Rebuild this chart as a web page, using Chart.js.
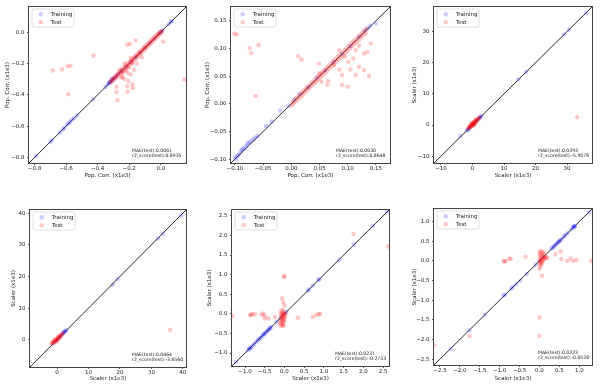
<!DOCTYPE html>
<html>
<head>
<meta charset="utf-8">
<script src="https://cdn.jsdelivr.net/npm/chart.js@4.4.1/dist/chart.umd.min.js"></script>
<style>
  html, body { margin: 0; padding: 0; background: #fff; }
  body { width: 602px; height: 390px; position: relative; overflow: hidden; }
  canvas { position: absolute; }
</style>
</head>
<body>
<canvas id="c1" width="200" height="195" style="left:0;top:0"></canvas>
<canvas id="c2" width="200" height="195" style="left:200px;top:0"></canvas>
<canvas id="c3" width="202" height="195" style="left:400px;top:0"></canvas>
<canvas id="c4" width="200" height="195" style="left:0;top:195px"></canvas>
<canvas id="c5" width="200" height="195" style="left:200px;top:195px"></canvas>
<canvas id="c6" width="202" height="195" style="left:400px;top:195px"></canvas>
<script>
// ----- dados -----
const p1Range = [-0.835, 0.16];
const p1Ticks = [-0.8, -0.6, -0.4, -0.2, 0.0];
const p1Train = [[-0.79,-0.79],[-0.70,-0.70],[-0.69,-0.69],[-0.64,-0.64],[-0.62,-0.62],[-0.61,-0.61],[-0.595,-0.59],[-0.585,-0.58],[-0.575,-0.575],[-0.565,-0.56],[-0.55,-0.55],[-0.53,-0.53],[-0.43,-0.43],[-0.35,-0.35],[-0.335,-0.335],[-0.33,-0.325],[-0.325,-0.32],[-0.32,-0.32],[-0.315,-0.31],[-0.31,-0.305],[-0.305,-0.30],[-0.30,-0.295],[-0.29,-0.29],[-0.28,-0.28],[-0.27,-0.265],[-0.25,-0.25],[-0.22,-0.22],[-0.19,-0.19],[-0.16,-0.16],[-0.13,-0.13],[-0.10,-0.10],[-0.07,-0.07],[-0.04,-0.04],[-0.01,-0.01],[0.00,0.00],[0.01,0.01],[0.05,0.05],[0.065,0.065],[0.07,0.07]];
const p1Test = [[-0.320,-0.315],[-0.315,-0.322],[-0.310,-0.300],[-0.305,-0.312],[-0.300,-0.292],[-0.295,-0.302],[-0.290,-0.282],[-0.285,-0.293],[-0.280,-0.272],[-0.275,-0.283],[-0.270,-0.262],[-0.265,-0.274],[-0.260,-0.252],[-0.255,-0.265],[-0.250,-0.241],[-0.245,-0.255],[-0.240,-0.232],[-0.235,-0.246],[-0.230,-0.221],[-0.225,-0.236],[-0.220,-0.211],[-0.215,-0.227],[-0.210,-0.202],[-0.205,-0.216],[-0.200,-0.191],[-0.195,-0.206],[-0.190,-0.182],[-0.185,-0.195],[-0.180,-0.171],[-0.175,-0.186],[-0.170,-0.162],[-0.165,-0.175],[-0.160,-0.152],[-0.155,-0.164],[-0.150,-0.142],[-0.145,-0.153],[-0.140,-0.132],[-0.135,-0.143],[-0.130,-0.122],[-0.125,-0.133],[-0.120,-0.112],[-0.115,-0.123],[-0.110,-0.102],[-0.105,-0.113],[-0.100,-0.092],[-0.095,-0.103],[-0.090,-0.082],[-0.085,-0.093],[-0.080,-0.072],[-0.075,-0.083],[-0.070,-0.062],[-0.065,-0.073],[-0.060,-0.052],[-0.055,-0.063],[-0.050,-0.042],[-0.045,-0.053],[-0.040,-0.032],[-0.035,-0.043],[-0.030,-0.022],[-0.025,-0.033],[-0.020,-0.012],[-0.015,-0.023],[-0.010,-0.003],[-0.005,-0.013],[0.000,0.004],[0.005,-0.003],[0.010,0.008],
  [-0.24,-0.26],[-0.22,-0.245],[-0.20,-0.225],[-0.18,-0.20],[-0.23,-0.20],[-0.19,-0.165],[-0.26,-0.24],
  [-0.685,-0.245],[-0.626,-0.239],[-0.59,-0.218],[-0.572,-0.214],[-0.586,-0.396],[-0.426,-0.150],[-0.212,-0.080],[-0.195,-0.075],[-0.159,-0.053],[0.015,-0.061],[0.149,-0.303],[-0.281,-0.383],[-0.275,-0.434],[-0.243,-0.286],[-0.206,-0.313],[-0.180,-0.334],[-0.212,-0.345],[-0.176,-0.356],[-0.28,-0.35],[-0.23,-0.30],[-0.19,-0.27],[-0.25,-0.29],[-0.21,-0.26],[-0.17,-0.24],[-0.15,-0.20],[-0.12,-0.16],[-0.21,-0.38]];

const p2Range = [-0.107, 0.175];
const p2Ticks = [-0.10, -0.05, 0.00, 0.05, 0.10, 0.15];
const p2Train = [[-0.100,-0.096],[-0.098,-0.100],[-0.096,-0.094],[-0.093,-0.092],[-0.090,-0.087],[-0.088,-0.083],[-0.086,-0.082],[-0.083,-0.080],[-0.080,-0.076],[-0.078,-0.072],[-0.075,-0.070],[-0.072,-0.068],[-0.068,-0.064],[-0.064,-0.061],[-0.060,-0.058],[-0.045,-0.040],[-0.035,-0.032],[-0.020,-0.012],[-0.005,-0.003],[0.005,0.008],[0.015,0.018],[0.030,0.030],[0.045,0.047],[0.060,0.060],[0.075,0.076],[0.090,0.090],[0.105,0.104],[0.120,0.121],[0.130,0.132],[0.135,0.136],[0.140,0.141],[0.150,0.145]];
const p2Test = [[0.000,-0.004],[0.002,0.003],[0.004,0.000],[0.006,0.008],[0.008,0.004],[0.010,0.012],[0.012,0.008],[0.014,0.016],[0.016,0.012],[0.018,0.020],[0.020,0.016],[0.022,0.024],[0.024,0.020],[0.026,0.028],[0.028,0.024],[0.030,0.032],[0.032,0.028],[0.034,0.036],[0.036,0.032],[0.038,0.040],[0.040,0.036],[0.042,0.044],[0.044,0.040],[0.046,0.049],[0.048,0.044],[0.050,0.053],[0.052,0.048],[0.054,0.057],[0.056,0.052],[0.058,0.061],[0.060,0.056],[0.062,0.065],[0.064,0.060],[0.066,0.069],[0.068,0.064],[0.070,0.073],[0.072,0.068],[0.074,0.077],[0.076,0.072],[0.078,0.081],[0.080,0.076],[0.082,0.085],[0.084,0.080],[0.086,0.089],[0.088,0.084],[0.090,0.093],[0.092,0.088],[0.094,0.097],[0.096,0.092],[0.098,0.101],[0.100,0.096],[0.102,0.105],[0.104,0.100],[0.106,0.109],[0.108,0.104],[0.110,0.113],[0.112,0.108],[0.114,0.117],[0.116,0.112],[0.118,0.121],[0.120,0.116],[0.122,0.125],[0.124,0.120],[0.126,0.129],[0.128,0.124],[0.130,0.133],[0.132,0.128],[0.134,0.136],
  [-0.101,0.127],[-0.097,0.125],[-0.074,0.101],[-0.071,0.092],[-0.058,0.106],[-0.063,0.014],[0.012,0.086],[0.018,0.080],[0.049,0.073],[0.050,0.055],[0.065,0.041],[0.054,0.040],[0.064,0.034],[0.090,0.034],[0.100,0.031],[0.085,0.062],[0.090,0.052],[0.105,0.062],[0.114,0.052],[0.120,0.067],[0.129,0.091],[0.135,0.094],[0.129,0.061],[0.138,0.050],[0.141,0.109],[0.110,0.082],[0.101,0.076],[0.114,0.097],[0.085,0.097],[0.076,0.070],[0.095,0.085],[0.120,0.105]];

const p3Range = [-12.2, 37.9];
const p3Ticks = [-10, 0, 10, 20, 30];
const p3Train = [[-3.8,-3.5],[-1.8,-1.8],[-1.5,-1.5],[-1.2,-1.3],[-1,-1],[-0.5,-0.5],[0,0],[0.5,0.5],[1,1],[1.5,1.5],[2,2],[2.3,2.4],[2.6,2.6],[2.8,2.9],[14.5,14.6],[17,17],[29,29.1],[30.6,30.6],[36.1,35.9]];
const p3Test = [[-1.5,-1.2],[-1.2,-0.8],[-1,-1],[-0.8,-0.4],[-0.6,-0.6],[-0.5,0],[-0.3,-0.2],[0,0],[0,0.4],[0.2,0.3],[0.4,0.6],[0.5,1],[0.7,0.8],[0.9,1.2],[1.1,1.3],[1.3,1.6],[1.5,1.5],[1.7,1.9],[2,2.1],[-0.2,0.5],[0.3,-0.3],[0.6,0.2],[1,0.6],[-0.9,-0.5],[0.1,0.8],[1.2,1.9],[0.8,1.5],[-0.4,0.3],[0.4,0.1],[2.2,2.5],[33.2,2.5]];

const p4Range = [-8.6, 41];
const p4Ticks = [0, 10, 20, 30, 40];
const p4Train = [[-1.2,-1.2],[-0.5,-0.5],[0,0],[0.5,0.5],[1,1],[1.5,1.6],[1.8,2],[2.1,2.2],[2.2,2.6],[2.4,2.5],[2.7,2.8],[3,3],[17.7,17.4],[19.2,19.1],[32.1,32.0],[33.7,33.5],[39.5,39.3]];
const p4Test = [[-1.8,-1.2],[-1.5,-1],[-1.3,-0.6],[-1,-0.9],[-0.8,-0.3],[-0.5,-0.5],[-0.3,0.1],[0,-0.2],[0,0.3],[0.3,0.5],[0.5,0.2],[0.6,0.9],[0.9,1.1],[1.1,0.8],[1.3,1.5],[1.6,1.7],[-0.6,0.2],[0.2,0.9],[-1.1,-0.4],[0.8,1.4],[1.9,2.1],[-0.2,-0.6],[36,3.1]];

const p5Range = [-1.33, 2.65];
const p5Ticks = [-1.0, -0.5, 0.0, 0.5, 1.0, 1.5, 2.0, 2.5];
const p5Train = [[-1.235,-1.23],[-0.92,-0.92],[-0.9,-0.89],[-0.88,-0.88],[-0.86,-0.87],[-0.84,-0.85],[-0.8,-0.8],[-0.76,-0.77],[-0.72,-0.72],[-0.68,-0.68],[-0.66,-0.65],[-0.62,-0.62],[-0.6,-0.61],[-0.56,-0.56],[-0.54,-0.53],[-0.52,-0.52],[-0.5,-0.5],[-0.47,-0.47],[-0.45,-0.45],[-0.42,-0.42],[-0.40,-0.40],[-0.38,-0.38],[-0.36,-0.36],[-0.34,-0.34],[-0.2,-0.2],[-0.1,-0.1],[0,0],[0.05,0.05],[0.59,0.59],[0.62,0.62],[0.72,0.72],[0.86,0.87],[0.88,0.88],[1.39,1.38],[1.77,1.77],[2.24,2.24],[2.6,2.61]];
const p5Test = [[-0.1,-0.3],[-0.08,-0.27],[-0.05,-0.3],[-0.02,-0.3],[-0.12,-0.22],[-0.08,-0.2],[-0.04,-0.2],[0,-0.18],[-0.1,-0.12],[-0.06,-0.12],[-0.02,-0.1],[0.02,-0.08],[-0.08,-0.05],[-0.04,-0.04],[0,0],[0.03,0.02],[-0.06,0.02],[-0.02,0.05],[-0.1,0.0],[-0.05,-0.08],[0.01,-0.04],[-0.07,-0.15],[-0.03,-0.25],[-0.09,0.08],[-0.04,0.1],[-0.05,0.0],[-0.01,-0.15],
  [-0.01,0.96],[0.0,0.94],[-0.06,0.40],[-0.87,-0.03],[-0.85,-0.02],[-0.81,-0.01],[-0.75,-0.01],[-0.58,-0.02],[-0.54,0.01],[-0.5,-0.04],[-0.41,-0.12],[-0.24,-0.08],[-1.32,-0.05],[0.34,-0.1],[0.72,-0.08],[0.8,-0.03],[0.87,-0.01],[0.9,0.0],[1.75,2.04],[2.63,1.72],[-0.5,-0.12],[0.0,0.22],[-0.03,0.3]];

const p6Range = [-2.65, 1.32];
const p6Ticks = [-2.5, -2.0, -1.5, -1.0, -0.5, 0.0, 0.5, 1.0];
const p6Train = [[-2.23,-2.24],[-1.76,-1.77],[-1.37,-1.37],[-0.9,-0.88],[-0.87,-0.86],[-0.71,-0.71],[-0.67,-0.66],[-0.58,-0.59],[-0.48,-0.5],[-0.32,-0.33],[-0.1,-0.1],[0,0],[0.1,0.1],[0.3,0.31],[0.33,0.34],[0.36,0.36],[0.38,0.39],[0.41,0.41],[0.43,0.44],[0.46,0.46],[0.48,0.49],[0.5,0.5],[0.52,0.52],[0.55,0.55],[0.6,0.6],[0.63,0.64],[0.67,0.67],[0.72,0.72],[0.8,0.8],[0.84,0.85],[0.86,0.86],[0.87,0.88],[0.88,0.87],[0.89,0.89],[1.25,1.25]];
const p6Test = [[0,-0.2],[0.02,-0.15],[0.05,-0.1],[0,-0.08],[0.03,-0.05],[0.06,0],[0,0.02],[0.04,0.05],[0.08,0.05],[0.02,0.1],[0.05,0.12],[0.1,0.1],[0.0,0.15],[0.03,0.2],[0.08,0.18],[0.1,0.22],[0.0,0.24],[0.05,0.25],[0.12,0.14],[0.02,-0.02],[0.07,-0.05],[0.1,0.02],[0.13,0.05],[0.15,0.08],
  [-0.9,0.0],[-0.88,-0.02],[-0.85,0.0],[-0.76,0.06],[-0.72,0.05],[-0.35,0.1],[0.0,-1.44],[0.0,-1.91],[-1.76,-1.91],[-2.64,-2.15],[0.06,-0.38],[0.4,0.17],[0.53,0.24],[0.55,0.05],[0.7,0.0],[0.78,0.06],[0.85,0.0],[0.93,0.02],[1.3,0.0],[0.2,0.07],[0.17,0.1]];

const corrLabel = 'Pop. Corr. (x1e3)';
const scalerLabel = 'Scaler (x1e3)';

// posição de cada painel dentro do seu canvas: [esq, topo, dir, base], títulos
const paineis = [
  { id: 'c1', range: p1Range, ticks: p1Ticks, dec: 1, label: corrLabel, train: p1Train, test: p1Test, mae: '0.0061', r2: '0.8935', area: [29, 7, 186, 163], yTitle: 7.3, xTitle: 175.5 },
  { id: 'c2', range: p2Range, ticks: p2Ticks, dec: 2, label: corrLabel, train: p2Train, test: p2Test, mae: '0.0030', r2: '0.8648', area: [31, 7, 190, 163], yTitle: 7.7, xTitle: 175.5 },
  { id: 'c3', range: p3Range, ticks: p3Ticks, dec: 0, label: scalerLabel, train: p3Train, test: p3Test, mae: '0.0393', r2: '-5.9078', area: [34, 7, 192, 163], yTitle: 15, xTitle: 175.5 },
  { id: 'c4', range: p4Range, ticks: p4Ticks, dec: 0, label: scalerLabel, train: p4Train, test: p4Test, mae: '0.0464', r2: '-3.6560', area: [30, 15, 186, 172], yTitle: 13.3, xTitle: 183.5 },
  { id: 'c5', range: p5Range, ticks: p5Ticks, dec: 1, label: scalerLabel, train: p5Train, test: p5Test, mae: '0.0231', r2: '-0.2733', area: [32, 15, 189, 171], yTitle: 10, xTitle: 183.5 },
  { id: 'c6', range: p6Range, ticks: p6Ticks, dec: 1, label: scalerLabel, train: p6Train, test: p6Test, mae: '0.0223', r2: '-0.0528', area: [34, 14, 192, 170], yTitle: 15, xTitle: 183.5 }
];

const corTreino = 'rgba(0,0,255,0.2)';
const corTeste = 'rgba(255,0,0,0.22)';
const fonte = 'DejaVu Sans';
const tamTexto = 5.5;
const alturaLinha = tamTexto * 1.2;

// moldura, legenda e texto MAE/r2 dentro da área do gráfico
const extrasPlugin = {
  id: 'extras',
  afterDraw(chart, args, opts) {
    const { ctx, chartArea: a } = chart;
    ctx.save();
    ctx.strokeStyle = '#444';
    ctx.lineWidth = 1;
    ctx.strokeRect(Math.round(a.left) - 0.5, Math.round(a.top) - 0.5, Math.round(a.right - a.left) + 1, Math.round(a.bottom - a.top) + 1);

    const lx = a.left + 3, ly = a.top + 2;
    ctx.fillStyle = 'rgba(255,255,255,0.85)';
    ctx.strokeStyle = '#d8d8d8';
    ctx.lineWidth = 0.8;
    ctx.beginPath();
    ctx.roundRect(lx, ly, 42, 18, 2);
    ctx.fill();
    ctx.stroke();

    const itens = [['Training', corTreino], ['Test', corTeste]];
    ctx.font = tamTexto + 'px "' + fonte + '"';
    ctx.textBaseline = 'middle';
    itens.forEach((it, i) => {
      const y = ly + 5.3 + i * 8;
      ctx.fillStyle = it[1];
      ctx.beginPath();
      ctx.arc(lx + 8.7, y, 2.2, 0, Math.PI * 2);
      ctx.fill();
      ctx.fillStyle = '#222';
      ctx.fillText(it[0], lx + 18.7, y);
    });

    ctx.font = '4.6px "' + fonte + '"';
    ctx.fillStyle = '#222';
    ctx.fillText('MAE(test):' + opts.mae, a.right - 54, a.bottom - 12.3);
    ctx.fillText('r2_score(test):' + opts.r2, a.right - 54, a.bottom - 7.7);
    ctx.restore();
  }
};

function formatar(v, dec) {
  return v.toFixed(dec).replace('-', '\u2212');
}

function eixo(p, lado) {
  const canvas = document.getElementById(p.id);
  const [l, t, r, b] = p.area;
  const titulo = { display: true, text: p.label, color: '#222', font: { family: fonte, size: tamTexto } };
  if (lado === 'x') titulo.padding = { top: 0, bottom: canvas.height - p.xTitle - alturaLinha / 2 };
  else titulo.padding = { top: p.yTitle - alturaLinha / 2, bottom: 0 };
  return {
    type: 'linear',
    position: lado === 'x' ? 'bottom' : 'left',
    min: p.range[0],
    max: p.range[1],
    afterBuildTicks: s => { s.ticks = p.ticks.map(v => ({ value: v })); },
    afterFit: s => {
      if (lado === 'x') s.height = canvas.height - b;
      else s.width = l;
    },
    ticks: {
      callback: v => formatar(v, p.dec),
      color: '#222',
      font: { family: fonte, size: tamTexto },
      padding: lado === 'x' ? 0 : 2.5,
      maxRotation: 0,
      autoSkip: false
    },
    grid: { display: true, drawOnChartArea: false, drawTicks: true, tickLength: 2, color: '#333', lineWidth: 0.8 },
    border: { display: false },
    title: titulo
  };
}

function criarPainel(p) {
  const canvas = document.getElementById(p.id);
  const [l, t, r, b] = p.area;
  new Chart(canvas, {
    type: 'scatter',
    data: {
      datasets: [
        {
          type: 'line',
          data: [{ x: p.range[0], y: p.range[0] }, { x: p.range[1], y: p.range[1] }],
          borderColor: '#111',
          borderWidth: 0.9,
          pointRadius: 0,
          order: 3
        },
        {
          label: 'Training',
          data: p.train.map(d => ({ x: d[0], y: d[1] })),
          backgroundColor: corTreino,
          borderWidth: 0,
          pointRadius: 2.2,
          order: 2
        },
        {
          label: 'Test',
          data: p.test.map(d => ({ x: d[0], y: d[1] })),
          backgroundColor: corTeste,
          borderWidth: 0,
          pointRadius: 2.2,
          order: 1
        }
      ]
    },
    options: {
      responsive: false,
      animation: false,
      devicePixelRatio: 1,
      layout: { autoPadding: false, padding: { left: 0, top: t, right: canvas.width - r, bottom: 0 } },
      plugins: {
        legend: { display: false },
        tooltip: { enabled: false },
        extras: { mae: p.mae, r2: p.r2 }
      },
      scales: { x: eixo(p, 'x'), y: eixo(p, 'y') }
    },
    plugins: [extrasPlugin]
  });
}

paineis.forEach(criarPainel);
</script>
</body>
</html>
